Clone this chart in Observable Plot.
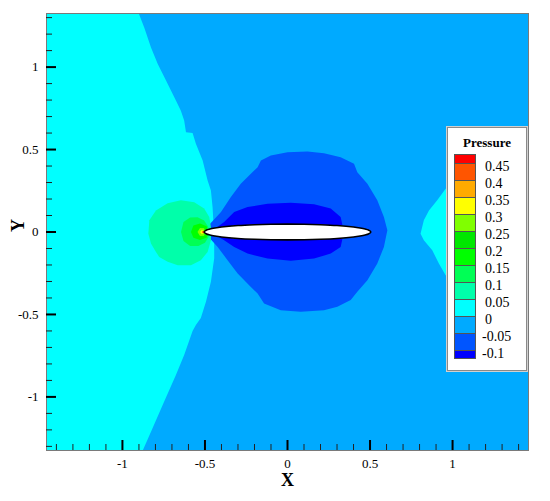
<!DOCTYPE html>
<html><head><meta charset="utf-8">
<script src="https://cdn.jsdelivr.net/npm/d3@7"></script>
<script src="https://cdn.jsdelivr.net/npm/@observablehq/plot@0.6"></script>
<style>
body{margin:0;background:#fff;}
#wrap{position:relative;width:550px;height:501px;font-family:"Liberation Serif","Times New Roman",serif;}
#wrap svg text{font-family:"Liberation Serif","Times New Roman",serif;}
.legend{position:absolute;left:447px;top:127px;width:80px;height:244px;box-sizing:border-box;background:#fff;border:1px solid #8a8a8a;box-shadow:0 0 0 1px #d0d0d0;}
.ltitle{position:absolute;left:0;width:100%;top:7px;text-align:center;font-weight:bold;font-size:13px;line-height:16px;}
.sw{position:absolute;left:6px;width:22px;box-sizing:border-box;border:1px solid #555;}
.lab{position:absolute;font-size:14px;line-height:16px;white-space:nowrap;}
</style></head><body><div id="wrap"></div>
<script>
// ---- axes ----
const xDomain = [-1.46, 1.46];
const yDomain = [-1.325, 1.325];
const majorTicks = [-1, -0.5, 0, 0.5, 1];
const minorTicksX = [-1.4,-1.3,-1.2,-1.1,-0.9,-0.8,-0.7,-0.6,-0.4,-0.3,-0.2,-0.1,0.1,0.2,0.3,0.4,0.6,0.7,0.8,0.9,1.1,1.2,1.3,1.4];
const minorTicksY = [-1.3,-1.2,-1.1,-0.9,-0.8,-0.7,-0.6,-0.4,-0.3,-0.2,-0.1,0.1,0.2,0.3,0.4,0.6,0.7,0.8,0.9,1.1,1.2,1.3];

// ---- field colours ----
const colorSky = "#00aaff", colorCyan = "#00ffff", colorBlue = "#0055ff", colorDark = "#0000ff";
const colorTeal = "#00ffaa", colorGreen1 = "#00ff55", colorGreen2 = "#00ff00", colorLime = "#80ff00", colorYellow = "#ffff00", colorRed = "#ff0000";

// ---- contour boundaries ----
const cyanLeftX = [-0.901,-0.868,-0.827,-0.786,-0.736,-0.676,-0.646,-0.626,-0.615,-0.575,-0.555,-0.514,-0.484,-0.464,-0.454,-0.446,-0.444,-0.444,-0.464,-0.494,-0.525,-0.555,-0.575,-0.626,-0.676,-0.747,-0.817,-0.877];
const cyanLeftY = [1.325,1.240,1.119,1.019,0.918,0.797,0.736,0.676,0.605,0.600,0.535,0.434,0.313,0.252,0.151,0.010,-0.080,-0.159,-0.302,-0.423,-0.522,-0.564,-0.601,-0.746,-0.867,-1.028,-1.188,-1.325];

const cyanRightX = [1.3,0.958,0.907,0.857,0.826,0.806,0.826,0.877,0.917,0.958,1.3];
const cyanRightY = [0.45,0.263,0.192,0.131,0.071,-0.010,-0.050,-0.111,-0.191,-0.262,-0.45];

const lensX = [-0.505,-0.403,-0.343,-0.283,-0.222,-0.181,-0.161,-0.101,0,0.121,0.221,0.322,0.403,0.423,0.484,0.544,0.584,0.605,0.584,0.544,0.484,0.423,0.383,0.302,0.221,0.080,-0.041,-0.142,-0.181,-0.222,-0.302,-0.363,-0.423,-0.505];
const lensY = [0.010,0.121,0.212,0.293,0.353,0.393,0.434,0.464,0.484,0.488,0.478,0.454,0.414,0.363,0.293,0.192,0.091,0.010,-0.091,-0.191,-0.292,-0.363,-0.413,-0.454,-0.474,-0.484,-0.474,-0.433,-0.373,-0.333,-0.252,-0.171,-0.091,0];

const darkX = [-0.444,-0.384,-0.323,-0.242,-0.121,0.020,0.161,0.262,0.322,0.342,0.322,0.262,0.161,0.020,-0.121,-0.242,-0.323,-0.384,-0.444];
const darkY = [0.016,0.060,0.121,0.151,0.172,0.178,0.168,0.142,0.091,0,-0.091,-0.131,-0.161,-0.175,-0.161,-0.131,-0.091,-0.050,-0.014];

const tealX = [-0.797,-0.726,-0.646,-0.565,-0.505,-0.474,-0.464,-0.464,-0.484,-0.525,-0.585,-0.665,-0.726,-0.777,-0.797,-0.827,-0.843,-0.837];
const tealY = [0.131,0.175,0.192,0.181,0.142,0.091,0.030,-0.050,-0.121,-0.171,-0.202,-0.202,-0.181,-0.151,-0.121,-0.070,-0.010,0.071];

const green1X = [-0.645,-0.630,-0.590,-0.545,-0.505,-0.480,-0.478,-0.500,-0.540,-0.590,-0.630];
const green1Y = [0,0.060,0.088,0.090,0.070,0.030,-0.030,-0.065,-0.085,-0.085,-0.055];

const green2X = [-0.585,-0.570,-0.530,-0.490,-0.480,-0.490,-0.530,-0.570];
const green2Y = [0,0.040,0.052,0.035,0,-0.035,-0.048,-0.035];

const limeX = [-0.545,-0.530,-0.505,-0.500,-0.505,-0.530];
const limeY = [0,0.024,0.022,0,-0.022,-0.024];
const yellowX = [-0.530,-0.518,-0.503,-0.518];
const yellowY = [0,0.014,0,-0.014];
const redX = [-0.518,-0.511,-0.504,-0.511];
const redY = [0,0.006,0,-0.006];

// airfoil: stations and half thickness
const airfoilX = [-0.505,-0.49,-0.47,-0.44,-0.4,-0.3,-0.2,-0.1,0,0.1,0.2,0.3,0.4,0.44,0.47,0.49,0.505];
const airfoilT = [0,0.012,0.018,0.024,0.030,0.039,0.044,0.047,0.048,0.047,0.044,0.039,0.030,0.024,0.018,0.012,0];

// ---- legend ----
const legendLevels = [0.45,0.4,0.35,0.3,0.25,0.2,0.15,0.1,0.05,0,-0.05,-0.1];
const legendColors = ["#ff0000","#ff5500","#ffaa00","#ffff00","#80ff00","#00e800","#00ff00","#00ff55","#00ffaa","#00ffff","#00aaff","#0055ff","#0000ff"];

// ---- build ----
const zip = (xs, ys) => xs.map((x, i) => ({x, y: ys[i]}));
const cyanLeft = [{x: xDomain[0], y: yDomain[1]}, ...zip(cyanLeftX, cyanLeftY), {x: xDomain[0], y: yDomain[0]}];
const cyanRight = [...zip(cyanRightX, cyanRightY), {x: xDomain[1], y: yDomain[0] * 0.4}, {x: xDomain[1], y: yDomain[1] * 0.4}];
const airfoil = [
  ...airfoilX.map((x, i) => ({x, y: airfoilT[i]})),
  ...airfoilX.slice(1, -1).reverse().map((x, i) => ({x, y: -airfoilT[airfoilX.length - 2 - i]}))
];
const poly = (pts, color) => Plot.line(pts, {x: "x", y: "y", fill: color, stroke: "none", curve: "linear-closed", clip: true});

const W = 550, H = 501, mL = 46, mR = 22, mT = 13, mB = 51;
const frameW = W - mL - mR, frameH = H - mT - mB;
const fmt = d => String(d);
const serif = "'Liberation Serif', 'Times New Roman', serif";

const chart = Plot.plot({
  width: W, height: H,
  marginLeft: mL, marginRight: mR, marginTop: mT, marginBottom: mB,
  style: {fontFamily: serif, fontSize: "14px", color: "black", background: "white"},
  x: {domain: xDomain},
  y: {domain: yDomain},
  marks: [
    Plot.frame({fill: colorSky, stroke: "none"}),
    poly(cyanLeft, colorCyan),
    poly(cyanRight, colorCyan),
    poly(zip(lensX, lensY), colorBlue),
    poly(zip(darkX, darkY), colorDark),
    poly(zip(tealX, tealY), colorTeal),
    poly(zip(green1X, green1Y), colorGreen1),
    poly(zip(green2X, green2Y), colorGreen2),
    poly(zip(limeX, limeY), colorLime),
    poly(zip(yellowX, yellowY), colorYellow),
    poly(zip(redX, redY), colorRed),
    Plot.line(airfoil, {x: "x", y: "y", fill: "white", stroke: "black", strokeWidth: 1.6, curve: "catmull-rom-closed"}),
    Plot.frame({stroke: "#7a7a7a", strokeWidth: 1}),
    Plot.tickX(minorTicksX, {x: d => d, insetTop: frameH - 6, stroke: "#222", strokeWidth: 1}),
    Plot.tickX(majorTicks, {x: d => d, insetTop: frameH - 10, stroke: "black", strokeWidth: 2}),
    Plot.tickY(minorTicksY, {y: d => d, insetRight: frameW - 6, stroke: "#222", strokeWidth: 1}),
    Plot.tickY(majorTicks, {y: d => d, insetRight: frameW - 10, stroke: "black", strokeWidth: 2}),
    Plot.axisX({ticks: majorTicks, tickSize: 0, tickPadding: 8, tickFormat: fmt, label: null, fontSize: 13}),
    Plot.axisY({ticks: majorTicks, tickSize: 0, tickPadding: 8, tickFormat: fmt, label: null, fontSize: 13}),
    Plot.text(["X"], {frameAnchor: "bottom", dy: 35, fontSize: 18, fontWeight: "bold"}),
    Plot.text(["Y"], {frameAnchor: "left", dx: -28, rotate: -90, fontSize: 18, fontWeight: "bold"})
  ]
});
const wrap = document.getElementById("wrap");
wrap.appendChild(chart);

// legend overlay
const lg = d3.select(wrap).append("div").attr("class", "legend");
lg.append("div").attr("class", "ltitle").text("Pressure");
const step = 17, swTop = 26;
let yy = swTop;
legendColors.forEach((c, i) => {
  const h = (i === 0 || i === legendColors.length - 1) ? step / 2 : step;
  lg.append("div").attr("class", "sw")
    .style("top", yy + "px").style("height", (h + 1) + "px").style("background", c);
  yy += h;
});
legendLevels.forEach((v, i) => {
  const cy = swTop + step / 2 + i * step + 4;
  lg.append("div").attr("class", "lab")
    .style("left", (v < 0 ? 34 : 37) + "px")
    .style("top", (cy - 8) + "px")
    .text(String(v));
});
</script></body></html>
